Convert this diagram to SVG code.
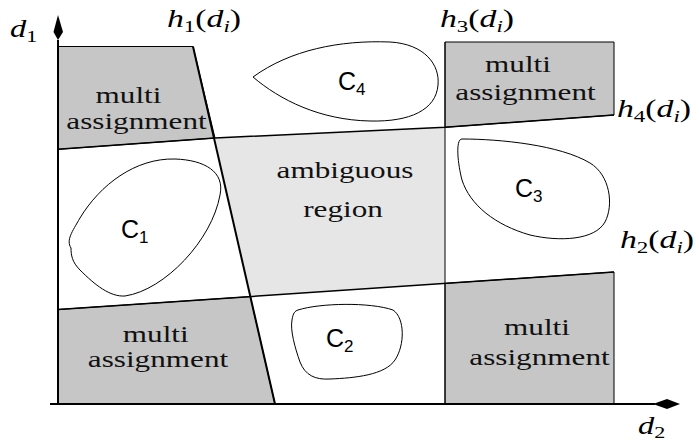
<svg xmlns="http://www.w3.org/2000/svg" width="699" height="447" viewBox="0 0 699 447">
<style>
.dark{fill:#c6c6c6;stroke:#000;stroke-width:1}
.light{fill:#e6e6e6;stroke:none}
.blob{fill:#fff;stroke:#000;stroke-width:1}
.lbl{font-family:"Liberation Serif","Times New Roman",serif;font-size:24px;fill:#111;text-anchor:middle}
.math{font-family:"Liberation Serif","Times New Roman",serif;font-size:25px;fill:#000}
.it{font-style:italic}
.sub{font-size:17px}
.cl{font-family:"Liberation Sans",Arial,sans-serif;font-size:25px;fill:#000}
.cs{font-size:17px}
.ln{fill:none;stroke:#000}
</style>
<rect width="699" height="447" fill="#fff"/>

<g id="ambiguous">
<polygon class="light" points="215,138 445,127.3 445,283.4 250.3,296.6"/>
<text class="lbl" transform="translate(345,178) scale(1.3,1)">ambiguous</text>
<text class="lbl" transform="translate(343,217) scale(1.3,1)">region</text>
</g>

<g id="multi-top-left">
<polygon class="dark" points="58,46.5 193,46.5 215,138 58,149.3"/>
<text class="lbl" transform="translate(128.5,103) scale(1.3,1)">multi</text>
<text class="lbl" transform="translate(136.5,129) scale(1.3,1)">assignment</text>
</g>

<g id="multi-top-right">
<polygon class="dark" points="445,42 614,42 614,115 445,127.3"/>
<text class="lbl" transform="translate(518,72) scale(1.3,1)">multi</text>
<text class="lbl" transform="translate(525.5,100) scale(1.3,1)">assignment</text>
</g>

<g id="multi-bottom-left">
<polygon class="dark" points="58,309.5 250.3,296.6 275,404 58,404"/>
<text class="lbl" transform="translate(155.7,342) scale(1.3,1)">multi</text>
<text class="lbl" transform="translate(158,367) scale(1.3,1)">assignment</text>
</g>

<g id="multi-bottom-right">
<polygon class="dark" points="445,283.4 614,272 614,404 445,404"/>
<text class="lbl" transform="translate(537,335) scale(1.3,1)">multi</text>
<text class="lbl" transform="translate(539.5,365) scale(1.3,1)">assignment</text>
</g>

<g id="C1">
<path class="blob" d="M71,248 C66,240 72,232 80,218 C100,185 135,158 175,159 C205,160 225,172 220,195 C212,240 165,290 125,296 C110,297 95,285 80,270 C72,262 71,255 71,248 Z"/>
<text class="cl" x="121" y="238">C<tspan class="cs" dy="5">1</tspan></text>
</g>

<g id="C2">
<path class="blob" d="M298,310 C320,303 370,302 393,310 C405,318 405,345 395,360 C385,375 355,378 330,379 C315,380 305,375 300,362 C295,348 290,330 292,320 C293,313 295,311 298,310 Z"/>
<text class="cl" x="326" y="347">C<tspan class="cs" dy="5">2</tspan></text>
</g>

<g id="C3">
<path class="blob" d="M462,139 C500,139 560,145 590,163 C610,175 614,205 605,222 C595,240 560,242 530,235 C495,225 470,205 462,180 C458,165 455,139 462,139 Z"/>
<text class="cl" x="515" y="197">C<tspan class="cs" dy="5">3</tspan></text>
</g>

<g id="C4">
<path class="blob" d="M253,77 C290,50 340,40 390,42 C425,44 440,65 438,85 C436,110 410,122 370,121 C320,120 280,100 253,77 Z"/>
<text class="cl" x="338" y="90">C<tspan class="cs" dy="5">4</tspan></text>
</g>

<g id="connectors">
<line class="ln" x1="193" y1="46.5" x2="275" y2="404" stroke-width="2"/>
<polyline class="ln" points="58,149.3 215,138 445,127.3 614,115" stroke-width="1.5"/>
<line class="ln" x1="58" y1="309.5" x2="614" y2="272" stroke-width="1.5"/>
<line class="ln" x1="445" y1="42" x2="445" y2="404" stroke-width="1"/>
<line class="ln" x1="58" y1="40" x2="58" y2="404" stroke-width="2"/>
<line class="ln" x1="50" y1="404" x2="655" y2="404" stroke-width="2"/>
<polygon points="58,15 63,32 58,40 53.5,32" fill="#000"/>
<polygon points="680,404 667,399 653,404 667,409" fill="#000"/>
</g>

<g id="labels">
<text class="math" transform="translate(10,37) scale(1.3,1)"><tspan class="it">d</tspan><tspan class="sub" dy="5">1</tspan></text>
<text class="math" transform="translate(638,434) scale(1.3,1)"><tspan class="it">d</tspan><tspan class="sub" dy="4">2</tspan></text>
<text class="math" transform="translate(167,27) scale(1.35,1)"><tspan class="it">h</tspan><tspan class="sub" dy="5">1</tspan><tspan dy="-5">(</tspan><tspan class="it">d</tspan><tspan class="sub it" dy="5">i</tspan><tspan dy="-5">)</tspan></text>
<text class="math" transform="translate(440,27) scale(1.35,1)"><tspan class="it">h</tspan><tspan class="sub" dy="5">3</tspan><tspan dy="-5">(</tspan><tspan class="it">d</tspan><tspan class="sub it" dy="5">i</tspan><tspan dy="-5">)</tspan></text>
<text class="math" transform="translate(617,117) scale(1.35,1)"><tspan class="it">h</tspan><tspan class="sub" dy="5">4</tspan><tspan dy="-5">(</tspan><tspan class="it">d</tspan><tspan class="sub it" dy="5">i</tspan><tspan dy="-5">)</tspan></text>
<text class="math" transform="translate(620,248) scale(1.35,1)"><tspan class="it">h</tspan><tspan class="sub" dy="5">2</tspan><tspan dy="-5">(</tspan><tspan class="it">d</tspan><tspan class="sub it" dy="5">i</tspan><tspan dy="-5">)</tspan></text>
</g>
</svg>
